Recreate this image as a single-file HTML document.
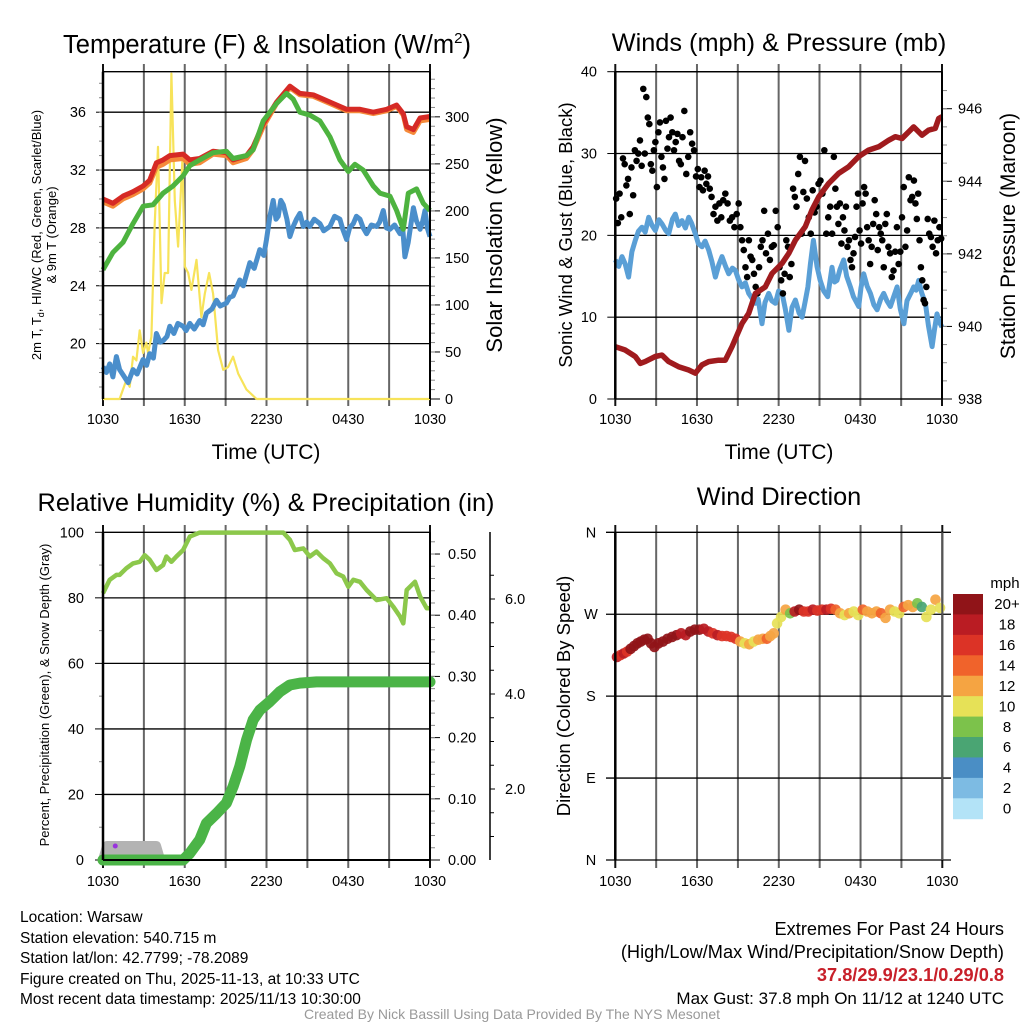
<!DOCTYPE html>
<html><head><meta charset="utf-8">
<style>
html,body{margin:0;padding:0;background:#fff;}
svg{display:block;font-family:"Liberation Sans",Arial,sans-serif;}
</style></head>
<body>
<svg id="chart" width="1024" height="1024" viewBox="0 0 1024 1024" xmlns="http://www.w3.org/2000/svg">
<rect width="1024" height="1024" fill="#fff"/>
<text x="267" y="53" font-size="25.5" text-anchor="middle">Temperature (F) &amp; Insolation (W/m<tspan font-size="15" dy="-10">2</tspan><tspan dy="10">)</tspan></text>
<text x="779" y="51" font-size="25.3" text-anchor="middle">Winds (mph) &amp; Pressure (mb)</text>
<text x="266" y="511" font-size="25.3" text-anchor="middle">Relative Humidity (%) &amp; Precipitation (in)</text>
<text x="779" y="505" font-size="25.3" text-anchor="middle">Wind Direction</text>

<text x="266" y="459" font-size="21" text-anchor="middle">Time (UTC)</text>
<text x="779" y="459" font-size="21" text-anchor="middle">Time (UTC)</text>
<text transform="translate(41,235) rotate(-90)" font-size="13" text-anchor="middle"><tspan x="0" y="0">2m T, T<tspan font-size="9" dy="3">d</tspan><tspan dy="-3">, HI/WC (Red, Green, Scarlet/Blue)</tspan></tspan><tspan x="0" y="15">&amp; 9m T (Orange)</tspan></text>
<text transform="translate(502,235) rotate(-90)" font-size="22" text-anchor="middle">Solar Insolation (Yellow)</text>
<text transform="translate(572,235) rotate(-90)" font-size="18.5" text-anchor="middle">Sonic Wind &amp; Gust (Blue, Black)</text>
<text transform="translate(1015,236) rotate(-90)" font-size="21" text-anchor="middle">Station Pressure (Maroon)</text>
<text transform="translate(49,695) rotate(-90)" font-size="13" text-anchor="middle">Percent, Precipitation (Green), &amp; Snow Depth (Gray)</text>
<text transform="translate(570,696) rotate(-90)" font-size="18.5" text-anchor="middle">Direction (Colored By Speed)</text>

<g font-size="15.5">
<text x="20" y="922">Location: Warsaw</text>
<text x="20" y="943">Station elevation: 540.715 m</text>
<text x="20" y="963">Station lat/lon: 42.7799; -78.2089</text>
<text x="20" y="984">Figure created on Thu, 2025-11-13, at 10:33 UTC</text>
<text x="20" y="1004">Most recent data timestamp: 2025/11/13 10:30:00</text>
</g>
<g font-size="18.2" text-anchor="end">
<text x="1004" y="935">Extremes For Past 24 Hours</text>
<text x="1004" y="958">(High/Low/Max Wind/Precipitation/Snow Depth)</text>
<text x="1004" y="981" fill="#c8202a" font-weight="bold">37.8/29.9/23.1/0.29/0.8</text>
<text x="1004" y="1004" font-size="17">Max Gust: 37.8 mph On 11/12 at 1240 UTC</text>
</g>
<text x="512" y="1019" font-size="14" fill="#999" text-anchor="middle">Created By Nick Bassill Using Data Provided By The NYS Mesonet</text>
<text x="1005" y="588" font-size="15" text-anchor="middle">mph</text>
</svg>
<script>
// ---------------- DATA ----------------
const xTickLabels = ["1030","1630","2230","0430","1030"];
// Temperature panel (hours since 1030 UTC)
const tempHours = [0,0.73,1.47,2.2,2.94,3.43,3.92,4.41,4.9,5.88,6.37,7.1,8.08,9.06,9.55,10.53,11.02,11.76,12.74,13.72,14.45,15.43,15.92,16.9,17.88,18.86,19.84,20.82,21.55,22.04,22.29,22.78,23.27,24];
const temp2m = [30.0,29.7,30.2,30.5,30.9,31.3,32.5,32.7,33.0,33.1,32.7,32.8,33.3,33.2,32.7,33.0,33.6,35.2,36.7,37.8,37.3,37.2,37.0,36.6,36.2,36.2,36.0,36.2,36.5,35.9,35.0,34.8,35.6,35.7];
const temp9m = [29.8,29.5,30.0,30.3,30.7,31.1,32.2,32.4,32.7,32.8,32.4,32.5,33.1,33.0,32.5,32.8,33.4,35.0,36.6,37.7,37.2,37.1,36.9,36.5,36.1,36.1,35.9,36.1,36.4,35.8,34.8,34.6,35.4,35.5];
const hiwcHours = [0,0.73,1.47,2.2,2.94,3.67,4.41,5.14,5.88,6.37,7.1,8.08,9.06,9.55,10.53,11.02,11.76,12.74,13.47,13.96,14.45,15.18,15.92,16.65,17.39,18,18.49,19.1,19.84,20.33,21.06,21.55,22.04,22.41,23.02,23.51,24];
const hiwc = [25.1,26.3,27.0,28.3,29.5,29.6,30.4,30.9,31.6,32.3,32.7,33.2,33.3,32.8,33.0,33.4,35.4,36.6,37.3,36.9,36.0,35.8,35.4,34.3,32.7,31.9,32.4,32.0,30.9,30.4,30.2,29.2,27.9,30.4,30.7,29.7,29.2];
const dewHours = [0,0.25,0.49,0.73,0.98,1.22,1.5,1.84,2.2,2.5,2.94,3.2,3.43,3.7,3.92,4.2,4.41,4.7,4.9,5.2,5.5,5.88,6.1,6.37,6.7,7.1,7.35,7.59,8.0,8.33,8.6,9.06,9.3,9.55,10.04,10.3,10.78,11.1,11.51,11.8,12,12.25,12.49,12.7,12.86,13.05,13.23,13.5,13.72,13.96,14.2,14.45,14.7,14.95,15.18,15.5,15.92,16.2,16.65,17.0,17.39,17.6,17.88,18.1,18.37,18.6,18.86,19.1,19.35,19.7,20.08,20.3,20.57,20.8,21.06,21.4,21.8,22.0,22.16,22.4,22.78,23.0,23.27,23.45,23.63,23.8,24];
const dewpoint = [18.4,18.0,18.6,17.7,19.1,18.2,17.8,17.3,18.2,17.9,18.9,18.5,19.3,19.0,20.7,20.1,20.2,20.5,21.2,20.7,21.4,21.2,20.9,21.4,21.0,21.6,21.3,22.1,22.4,23.0,22.6,22.8,23.2,23.3,24.4,24.0,25.6,25.2,26.5,26.1,27.2,28.8,29.9,28.6,28.8,29.9,29.6,28.6,27.4,28.1,28.6,29.0,28.1,28.4,28.1,28.6,28.3,27.8,28.1,28.8,28.6,27.9,27.2,28.0,28.3,28.8,28.6,28.0,27.6,28.2,28.1,28.4,29.2,28.0,27.9,28.2,27.6,27.9,26.0,27.0,29.4,28.5,27.9,28.4,29.2,28.0,27.4];
const solarHours = [0,1.22,1.71,1.96,2.2,2.45,2.69,2.94,3.18,3.31,3.55,3.79,4.04,4.29,4.53,4.78,5.02,5.27,5.51,5.83,6.0,6.25,6.49,6.86,7.22,7.47,7.79,8.08,8.45,8.82,9.18,9.55,9.92,10.53,11.27,24];
const solar = [0,0,20,13,45,41,73,49,60,49,66,183,268,102,134,134,346,211,162,254,141,134,116,148,87,112,134,112,52,31,34,45,27,10,0,0];
// Wind panel
const windHours = [0,0.25,0.49,0.73,0.98,1.22,1.47,1.7,1.96,2.2,2.45,2.7,2.94,3.2,3.43,3.7,3.92,4.2,4.41,4.65,4.9,5.15,5.39,5.6,5.88,6.1,6.37,6.6,6.86,7.1,7.35,7.6,7.84,8.1,8.33,8.6,8.82,9.05,9.31,9.55,9.8,10.05,10.29,10.5,10.78,11.0,11.27,11.5,11.76,12.0,12.25,12.49,12.75,12.98,13.23,13.5,13.72,13.96,14.15,14.33,14.55,14.82,15.05,15.31,15.6,15.92,16.1,16.29,16.5,16.78,17.0,17.27,17.5,17.88,18.05,18.25,18.5,18.74,19.0,19.23,19.5,19.72,19.95,20.21,20.45,20.7,20.94,21.2,21.43,21.7,21.92,22.1,22.29,22.5,22.78,23.0,23.27,23.45,23.63,23.8,24];
const windSpeed = [17,16.2,17.4,16.5,14.9,18.0,19.4,20.5,21,20.4,22.2,21.2,20.6,21.9,21.4,20.6,20.2,22.0,22.6,21.2,21.8,20.9,22.2,21.5,20.2,19.0,18.6,19.3,18.2,16.8,14.9,16.4,17.4,16.2,15.3,16.0,15.7,14.6,13.7,14.2,12.9,12.3,11.7,12.2,9.2,11.8,12.9,12.0,11.7,13.2,12.9,11.0,8.4,11.2,12.1,10.5,10,12.0,13.7,16.5,19.4,16.2,14.5,13.2,12.5,16.1,14.3,14.5,15.8,17,15.0,13.7,12.5,11.3,13.6,15.3,13.8,12.9,11.5,10.9,12.2,12.9,12.0,11.3,12.5,13.7,11.0,9.2,12.0,12.9,13.7,13.3,14.5,13.0,11.7,9.0,6.4,8.5,10.4,9.4,8.8,10.5,12.1];
const gustByHour = [
 [24.5,21.5,25.1,22.2,29.4,28.7,26.1,26.9],
 [22.6,28.3,24.9,30.4,29.1,30.0,31.6,28.5],
 [37.9,30.0,36.9,34.4,33.6,28.7,27.9,30.4,31.4],
 [25.9,32.6,33.8,29.6,28.3,26.9,34.0,30.6,32.0],
 [34.4,32.6,30.4,31.4,32.4,29.1,28.7,32.0],
 [35.2,27.5,29.6,32.6,31.2,30.4,27.2],
 [28.1,25.9,27.1,25.5,27.9,26.3,27.2,25.7],
 [24.7,22.6,23.5,21.8,23.9,22.2,24.3],
 [25.1,23.9,21.8,22.2,21.0,22.6],
 [23.9,21.0,19.4,18.2,16.1,14.9,19.4,17.4],
 [17.0,15.3,13.7,12.9,16.1,18.6,19.4,23.0],
 [17.8,20.2,17.0,18.6,18.8,23.0,21.0],
 [16.1,14.5,12.9,15.3,19.4,18.6,14.9,16.5],
 [25.7,24.7,23.5,27.5,29.6,20.2,25.3,29.1],
 [24.5,22.2,20.2,25.5,22.8,23.5,26.3],
 [26.7,25.1,30.4,20.2,22.2,23.5,20.2],
 [29.6,25.7,23.5,21.4,23.9,19.0,22.2,20.6,23.5],
 [18.6,19.4,17.0,16.1,17.8,19.8,23.5,25.1,20.6],
 [19.0,23.9,25.9,25.1,21.0,19.4,16.5,18.6,21.4],
 [24.3,22.6,18.2,21.0,20.2,19.4,16.1,21.4,22.6],
 [18.6,17.8,14.9,15.7,18.0,21.0,16.5,18.0],
 [22.2,25.9,18.6,20.6,27.1,24.3,24.7,26.7],
 [23.9,22.0,25.1,19.4,16.1,14.5,12.1,11.7,13.7,22.0],
 [20.2,19.8,18.6,21.8,17.8,19.4,21.0,19.6]
];
const presHours = [0,0.73,1.47,1.84,2.2,2.94,3.43,3.92,4.65,5.39,5.88,6.37,6.86,7.59,8.08,8.57,9.31,9.8,10.29,11.02,11.51,12.25,12.74,13.23,13.96,14.45,14.94,15.67,16.41,17.14,17.88,18.61,19.35,20.08,20.57,21.06,21.55,21.92,22.53,23.02,23.51,23.76,24];
const pressure = [939.44,939.35,939.17,938.98,939.03,939.17,939.21,939.03,938.89,938.80,938.71,938.94,939.03,939.07,939.07,939.44,940.08,940.36,940.91,941.09,941.46,941.74,942.01,942.38,942.75,943.21,943.57,943.94,944.22,944.40,944.68,944.86,944.95,945.13,945.23,945.18,945.36,945.50,945.27,945.41,945.46,945.73,945.78];
// Humidity panel
const rhHours = [0,0.49,0.98,1.22,1.71,2.2,2.69,3.06,3.43,3.92,4.41,4.65,5.02,5.39,5.88,6.37,7.1,13.23,13.72,14.08,14.7,15.18,15.67,16.16,16.65,17.14,17.63,18,18.37,18.86,19.35,20.08,20.82,21.31,21.8,22.04,22.29,22.9,23.27,23.76,24];
const rh = [81.4,85.5,87,87,89,90.5,91,93,91.6,88.5,90,92.6,91,92.6,94.6,98.7,99.9,99.9,97.7,94.6,95.1,92.6,94.1,92.1,90.5,87.5,86.5,83.4,85.5,84.9,82.4,79.3,79.9,77.3,74.3,72.2,82.4,84.9,80.4,76.8,76.8];
const precipHours = [0,5.88,6.37,7.1,7.59,8.33,9.06,9.55,10.04,10.53,11.02,11.51,12.25,12.98,13.72,14.45,15.67,24];
const precip = [0,0,0.011,0.033,0.06,0.076,0.093,0.12,0.153,0.196,0.229,0.245,0.259,0.275,0.286,0.289,0.291,0.291];
const snowHours = [0,0.3,3.9,4.2];
const snowDepth = [0.0,0.8,0.8,0.0];
const snowTicks = ["2.0","4.0","6.0"];
// Wind direction panel (degrees, mph)
const dirByHour = [
 [223,225,227,229],[232,235,238,240],[242,243,238,234],[238,240,243],[245,247,249],[247,251,253],
 [253,254,251],[249,247,246],[246,245,243],[240,238,237],[240,242,243],[243,246,249,260],
 [267,275,271],[273,275,273],[273,275,274],[275,275,276],[275,271,269],[271,273,269],
 [275,273,271],[273,271,266],[275,273,271],[278,280,278],[282,278,267],[275,286,277]
];
const speedByHour = [
 [18,16,18,17],[21,20,21,20],[21,21,20,21],[21,21,20],[20,21,18],[18,20,21],
 [21,18,19],[16,18,17],[16,17,16],[12,10,12],[10,12,12],[14,12,13,11],
 [10,12,9],[18,21,17],[16,18,17],[16,18,17],[14,12,10],[12,10,11],
 [14,12,13],[12,14,13],[12,10,11],[14,13,12],[8,6,10],[10,12,11]
];
const cbLabels = ["20+","18","16","14","12","10","8","6","4","2","0"];
const cbColors = ["#901418","#ba1c23","#dc3326","#f0632b","#f5a442","#e6e157","#7cc24b","#4aa573","#4a8ec5","#7dbbe3","#b3e3f7"];

// ---------------- HELPERS ----------------
const svg = document.getElementById('chart');
const NS = 'http://www.w3.org/2000/svg';
function mk(tag, attrs, parent){const e=document.createElementNS(NS,tag);for(const k in attrs)e.setAttribute(k,attrs[k]);(parent||svg).appendChild(e);return e;}
function ln(x1,y1,x2,y2,st,w,p){return mk('line',{x1:x1,y1:y1,x2:x2,y2:y2,stroke:st,'stroke-width':w},p);}
function tx(x,y,s,size,anchor,p){const t=mk('text',{x:x,y:y,'font-size':size,'text-anchor':anchor||'middle'},p);t.textContent=s;return t;}
function lin(d0,d1,r0,r1){return v=>r0+(v-d0)/(d1-d0)*(r1-r0);}
function pathD(xs,ys,fx,fy){return xs.map((h,i)=>(i?'L':'M')+fx(h).toFixed(1)+','+fy(ys[i]).toFixed(1)).join('');}
function colorFor(s){let i=Math.min(10,Math.floor(s/2));return cbColors[10-i];}

function frame(x0,x1,y0,y1,name,gridTop,gridBot){
  const g=mk('g',{});
  
  
  for(let i=0;i<=8;i++){
    const x=x0+(x1-x0)*i/8;
    ln(x,gridTop,x,gridBot,(i===0||i===8)?'#111':'#666',2,g);
  }
  xTickLabels.forEach((s,i)=>{
    const t=tx(x0+(x1-x0)*i/4,gridBot+18,s,14.5,'middle',g);
    
    
  });
  return g;
}
function hgrid(g,x0,x1,y){ln(x0,y,x1,y,'#000',1.3,g);}

// ---------------- PANEL 1: TEMPERATURE ----------------
(function(){
  const x0=103,x1=430,y0=71.7,y1=399;
  const fx=lin(0,24,x0,x1), fy=lin(16.17,38.8,y1,y0), fs=lin(0,348,y1,y0);
  const g=frame(x0,x1,y0,y1,'temp',64,406);
  hgrid(g,x0,x1,y0);hgrid(g,x0,x1,y1);
  [20,24,28,32,36].forEach(v=>{hgrid(g,x0,x1,fy(v));ln(x0-7,fy(v),x0,fy(v),'#000',1,g);
    const t=tx(86,fy(v)+5,String(v),14.5,'end',g);});
  for(let v=17;v<=38;v++)ln(x0-4,fy(v),x0,fy(v),'#888',1,g);
  [0,50,100,150,200,250,300].forEach(v=>{ln(x1,fs(v),x1+10,fs(v),'#000',1,g);
    const t=tx(445,fs(v)+5,String(v),14.5,'start',g);});
  for(let v=10;v<=340;v+=10)ln(x1,fs(v),x1+5,fs(v),'#888',1,g);
  const p1=mk('path',{d:pathD(solarHours,solar,fx,fs),fill:'none',stroke:'#f7e35a','stroke-width':2.2,'stroke-linejoin':'round'});
  
  const p2=mk('path',{d:pathD(dewHours,dewpoint,fx,fy),fill:'none',stroke:'#4a8ecb','stroke-width':5,'stroke-linejoin':'round'});
  
  const p3=mk('path',{d:pathD(tempHours,temp9m,fx,fy),fill:'none',stroke:'#f58a3a','stroke-width':5,'stroke-linejoin':'round'});
  
  const p4=mk('path',{d:pathD(tempHours,temp2m,fx,fy),fill:'none',stroke:'#d62a25','stroke-width':5,'stroke-linejoin':'round'});
  
  const p5=mk('path',{d:pathD(hiwcHours,hiwc,fx,fy),fill:'none',stroke:'#4db33f','stroke-width':5,'stroke-linejoin':'round'});
  
  ln(x0,y0,x0,y1,'#000',2.5);ln(x1,y0,x1,y1,'#000',2);
})();

// ---------------- PANEL 2: WINDS ----------------
(function(){
  const x0=615.3,x1=942,y0=71.7,y1=399;
  const fx=lin(0,24,x0,x1), fy=lin(0,40,y1,y0), fp=lin(938,947.02,y1,y0);
  const g=frame(x0,x1,y0,y1,'wind',64,406);
  hgrid(g,x0,x1,y0);hgrid(g,x0,x1,y1);
  [0,10,20,30,40].forEach(v=>{hgrid(g,x0,x1,fy(v));ln(x0-8,fy(v),x0,fy(v),'#000',1,g);
    const t=tx(597,fy(v)+5,String(v),14.5,'end',g);});
  [938,940,942,944,946].forEach(v=>{ln(x1,fp(v),x1+10,fp(v),'#000',1,g);
    const t=tx(958,fp(v)+5,String(v),14.5,'start',g);});
  for(let v=938.5;v<947;v+=0.5)ln(x1,fp(v),x1+5,fp(v),'#888',1,g);
  const p1=mk('path',{d:pathD(windHours,windSpeed,fx,fy),fill:'none',stroke:'#5a9fd6','stroke-width':5,'stroke-linejoin':'round'});
  
  const gg=mk('g',{});
  
  gustByHour.forEach((arr,h)=>arr.forEach((v,j)=>{
    const c=mk('circle',{cx:fx(h+(j+0.5)/arr.length),cy:fy(v),r:3.3,fill:'#000'},gg);
    
  }));
  const p2=mk('path',{d:pathD(presHours,pressure,fx,fp),fill:'none',stroke:'#a01b1e','stroke-width':5.5,'stroke-linejoin':'round'});
  
  ln(x0,y0,x0,y1,'#000',2.5);ln(x1,y0,x1,y1,'#000',2);
})();

// ---------------- PANEL 3: HUMIDITY ----------------
(function(){
  const x0=103,x1=430,y0=532.3,y1=860;
  const fx=lin(0,24,x0,x1), fy=lin(0,100,y1,y0), fr=lin(0,0.5355,y1,y0), fsn=lin(0,6,884,599);
  const g=frame(x0,x1,y0,y1,'humidity',525,868);
  [0,20,40,60,80,100].forEach(v=>{hgrid(g,x0,x1,fy(v));ln(x0-8,fy(v),x0,fy(v),'#000',1,g);
    const t=tx(84,fy(v)+5,String(v),14.5,'end',g);});
  for(let v=10;v<100;v+=20)ln(x0-4,fy(v),x0,fy(v),'#888',1,g);
  [0,0.1,0.2,0.3,0.4,0.5].forEach(v=>{ln(x1,fr(v),x1+10,fr(v),'#000',1,g);
    const t=tx(448,fr(v)+5,v.toFixed(2),14.5,'start',g);});
  for(let v=0.02;v<0.53;v+=0.02)ln(x1,fr(v),x1+5,fr(v),'#888',1,g);
  ln(490,532,490,860,'#000',1.5,g);
  for(let v=0.5;v<=6.7;v+=0.5){if(fsn(v)<=860&&fsn(v)>=532)ln(490,fsn(v),494,fsn(v),'#000',1,g);}
  snowTicks.forEach(s=>{const v=parseFloat(s);ln(490,fsn(v),495,fsn(v),'#000',1,g);
    const t=tx(505,fsn(v)+5,s,14.5,'start',g);});
  const sd=pathD(snowHours,snowDepth,fx,v=>Math.min(860,fsn(v)))+'Z';
  const p0=mk('path',{d:sd,fill:'#b3b3b3',stroke:'#b3b3b3','stroke-width':10,'stroke-linejoin':'round'});
  
  const pd=mk('circle',{cx:fx(0.9),cy:fsn(0.8),r:2.5,fill:'#9933dd'});
  
  const p1=mk('path',{d:pathD(rhHours,rh,fx,fy),fill:'none',stroke:'#8cc84b','stroke-width':4.5,'stroke-linejoin':'round'});
  
  const p2=mk('path',{d:pathD(precipHours,precip,fx,fr),fill:'none',stroke:'#4bb447','stroke-width':11,'stroke-linejoin':'round','stroke-linecap':'round'});
  
  ln(x0,y0,x0,y1,'#000',2.5);ln(x1,y0,x1,y1,'#000',2);ln(x0,y1,x1,y1,'#000',2);
})();

// ---------------- PANEL 4: WIND DIRECTION ----------------
(function(){
  const x0=615.3,x1=942.3,y0=532.3,y1=860;
  const fx=lin(0,24,x0,x1), fy=lin(0,360,y1,y0);
  const g=frame(x0,x1,y0,y1,'direction',525,868);
  const dirLabels=["N","E","S","W","N"];
  [0,90,180,270,360].forEach((v,i)=>{ln(606,fy(v),951,fy(v),'#000',1.3,g);
    const t=tx(591,fy(v)+5,dirLabels[i],14.5,'middle',g);});
  const gg=mk('g',{});
  
  dirByHour.forEach((arr,h)=>arr.forEach((d,j)=>{
    const c=mk('circle',{cx:fx(h+(j+0.5)/arr.length),cy:fy(d),r:5.3,fill:colorFor(speedByHour[h][j]),'fill-opacity':0.92},gg);
    
  }));
  ln(x0,y0,x0,y1,'#000',2.5);ln(x1,y0,x1,y1,'#555',2);
  const cb=mk('g',{});
  
  const cy0=594,ch=20.43;
  cbColors.forEach((c,i)=>{
    const r=mk('rect',{x:953,y:cy0+i*ch,width:30,height:ch+0.5,fill:c},cb);
    
    const t=tx(1007,cy0+i*ch+ch/2+5,cbLabels[i],15,'middle',cb);
    
  });
})();
</script>
</body></html>
